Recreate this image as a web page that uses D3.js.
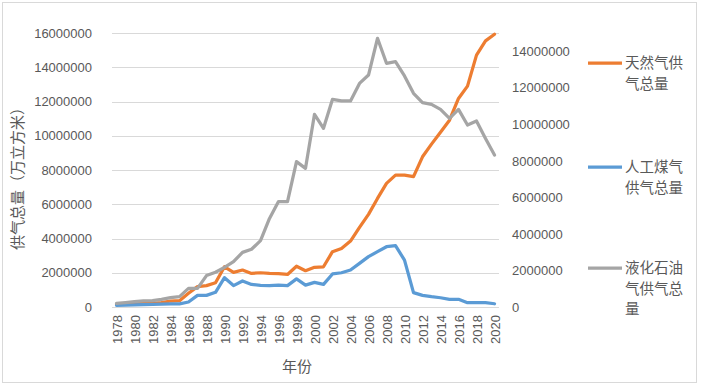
<!DOCTYPE html>
<html>
<head>
<meta charset="utf-8">
<script src="https://cdn.jsdelivr.net/npm/d3@7"></script>
<style>
  body { margin: 0; background: #fff; }
  svg { display: block; }
  text { font-family: "Liberation Sans", Arial, sans-serif; fill: #595959; }
  .cjk { font-family: "Noto Sans CJK SC", sans-serif; }
</style>
</head>
<body>
<svg id="chart" width="702" height="388"></svg>
<script>
// data
const years = d3.range(1978, 2021)
const seriesNames = ["天然气供气总量", "人工煤气供气总量", "液化石油气供气总量"]
const naturalGas = [160000, 170000, 190000, 200000, 210000, 250000, 350000, 370000, 800000, 1190000,
  1250000, 1420000, 2350000, 2020000, 2160000, 1960000, 2000000, 1960000, 1950000, 1900000,
  2380000, 2120000, 2320000, 2350000, 3230000, 3420000, 3850000, 4650000, 5410000, 6340000,
  7220000, 7700000, 7700000, 7610000, 8770000, 9510000, 10210000, 10910000, 12180000, 12900000,
  14710000, 15540000, 15930000]
const coalGas = [100000, 110000, 120000, 140000, 160000, 170000, 180000, 180000, 290000, 680000,
  680000, 860000, 1710000, 1250000, 1520000, 1320000, 1260000, 1250000, 1280000, 1250000,
  1640000, 1280000, 1440000, 1320000, 1930000, 2000000, 2160000, 2550000, 2940000, 3230000,
  3520000, 3580000, 2740000, 840000, 680000, 600000, 540000, 450000, 450000, 250000,
  250000, 250000, 190000]
const lpg = [200000, 240000, 290000, 330000, 350000, 420000, 510000, 570000, 1020000, 1020000,
  1720000, 1900000, 2170000, 2480000, 2990000, 3160000, 3630000, 4850000, 5770000, 5770000,
  7960000, 7590000, 10550000, 9780000, 11370000, 11280000, 11280000, 12240000, 12700000, 14710000,
  13340000, 13430000, 12650000, 11700000, 11190000, 11090000, 10820000, 10330000, 10820000, 9960000,
  10180000, 9230000, 8320000]
const leftTicks = d3.range(0, 16000001, 2000000)
const rightTicks = d3.range(0, 14000001, 2000000)
const colors = ["#ED7D31", "#5B9BD5", "#A5A5A5"]

const svg = d3.select("#chart")

// chart frame
svg.append("rect")
  .attr("x", 2.5).attr("y", 2.5)
  .attr("width", 694).attr("height", 380)
  .attr("fill", "#fff").attr("stroke", "#d9d9d9")

// scales
const x = d3.scalePoint().domain(years).range([112, 499]).padding(0.5)
const yLeft = d3.scaleLinear().domain([0, 16000000]).range([307, 33])
const yRight = d3.scaleLinear().domain([0, 15000000]).range([307, 33])

// gridlines
svg.append("g")
  .selectAll("line")
  .data(leftTicks)
  .join("line")
  .attr("x1", 112).attr("x2", 499)
  .attr("y1", (d) => Math.round(yLeft(d)) + 0.5)
  .attr("y2", (d) => Math.round(yLeft(d)) + 0.5)
  .attr("stroke", "#d9d9d9")

// left axis
const gLeft = svg.append("g")
  .attr("transform", "translate(100,0)")
  .call(d3.axisLeft(yLeft).tickValues(leftTicks).tickSize(0).tickPadding(8).tickFormat(d3.format("d")))
gLeft.select(".domain").remove()
gLeft.selectAll("text").attr("font-size", 13).style("fill", "#595959")

// right axis
const gRight = svg.append("g")
  .attr("transform", "translate(504,0)")
  .call(d3.axisRight(yRight).tickValues(rightTicks).tickSize(0).tickPadding(8).tickFormat(d3.format("d")))
gRight.select(".domain").remove()
gRight.selectAll("text").attr("font-size", 13).style("fill", "#595959")

// x axis, labels turned up
const gX = svg.append("g")
  .attr("transform", "translate(0,307)")
  .call(d3.axisBottom(x).tickValues(years.filter((d) => d % 2 === 0)).tickSize(0))
gX.select(".domain").remove()
gX.selectAll("text")
  .attr("font-size", 13)
  .style("fill", "#595959")
  .attr("transform", "rotate(-90)")
  .attr("text-anchor", "end")
  .attr("x", -8)
  .attr("y", 0)
  .attr("dy", "0.35em")

// axis titles
svg.append("text")
  .attr("class", "cjk")
  .attr("transform", "translate(18,175) rotate(-90)")
  .attr("text-anchor", "middle")
  .attr("dy", "0.35em")
  .attr("font-size", 15)
  .text("供气总量（万立方米）")

svg.append("text")
  .attr("class", "cjk")
  .attr("x", 297).attr("y", 367)
  .attr("text-anchor", "middle")
  .attr("dy", "0.35em")
  .attr("font-size", 15)
  .text("年份")

// lines
const series = [
  { values: naturalGas, y: yLeft },
  { values: coalGas, y: yLeft },
  { values: lpg, y: yRight },
]

series.forEach((s, i) => {
  const line = d3.line()
    .x((d, j) => x(years[j]))
    .y((d) => s.y(d))
  svg.append("path")
    .datum(s.values)
    .attr("d", line)
    .attr("fill", "none")
    .attr("stroke", colors[i])
    .attr("stroke-width", 3.25)
    .attr("stroke-linejoin", "round")
    .attr("stroke-linecap", "round")
})

// legend
const legendY = [63, 167, 268]
seriesNames.forEach((name, i) => {
  const g = svg.append("g").attr("transform", `translate(588,${legendY[i]})`)
  g.append("line")
    .attr("x1", 0).attr("x2", 34)
    .attr("stroke", colors[i]).attr("stroke-width", 3.25)
  const lines = name.match(/.{1,4}/g)
  g.selectAll("text")
    .data(lines)
    .join("text")
    .attr("class", "cjk")
    .attr("x", 37)
    .attr("y", (d, j) => j * 20.5)
    .attr("dy", "0.35em")
    .attr("font-size", 14.5)
    .text((d) => d)
})
</script>
</body>
</html>
